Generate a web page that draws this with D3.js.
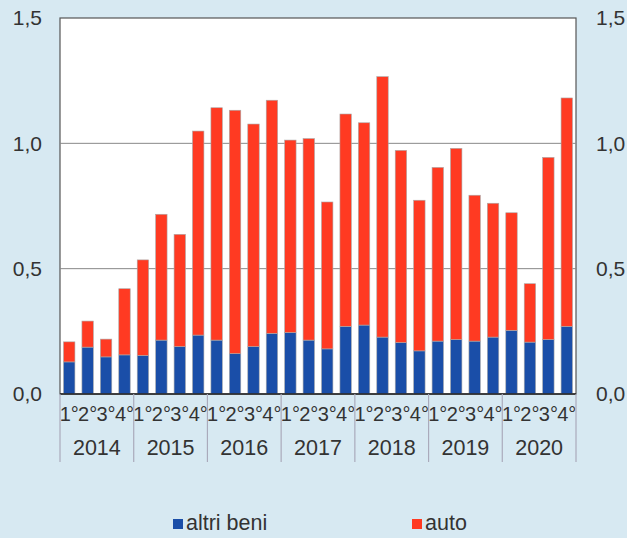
<!DOCTYPE html>
<html>
<head>
<meta charset="utf-8">
<script src="https://cdn.jsdelivr.net/npm/d3@7"></script>
<style>
  body { margin: 0; background: #d7e9f2; }
  text { font-family: "Liberation Sans", Arial, sans-serif; fill: #333; }
</style>
</head>
<body>
<script>
// data
var years = ['2014', '2015', '2016', '2017', '2018', '2019', '2020'];
var quarters = ['1°', '2°', '3°', '4°'];
var altriBeni = [0.128, 0.187, 0.148, 0.156, 0.154, 0.215, 0.189, 0.235,
                 0.215, 0.161, 0.189, 0.242, 0.245, 0.215, 0.180, 0.270,
                 0.275, 0.227, 0.205, 0.172, 0.211, 0.217, 0.211, 0.227,
                 0.254, 0.207, 0.217, 0.270];
var totale = [0.208, 0.291, 0.219, 0.420, 0.535, 0.717, 0.637, 1.049,
              1.142, 1.132, 1.077, 1.172, 1.013, 1.019, 0.766, 1.117,
              1.082, 1.266, 0.972, 0.773, 0.904, 0.980, 0.793, 0.761,
              0.723, 0.440, 0.944, 1.181];
var yTicks = [0, 0.5, 1, 1.5];

// build rows
var rows = [];
years.forEach(function(yr, yi) {
    quarters.forEach(function(q, qi) {
        var i = yi * 4 + qi;
        rows.push({key: yr + '-' + q, year: yr, q: q,
                   altri: altriBeni[i], auto: totale[i] - altriBeni[i]});
    });
});

// dimensions
var width = 627, height = 538,
    margin = {top: 18, right: 51, bottom: 144, left: 60},
    w = width - margin.left - margin.right,
    h = height - margin.top - margin.bottom;

var x = d3.scaleBand().domain(rows.map(function(d) { return d.key; }))
          .range([0, w]).paddingInner(0.38).paddingOuter(0.19);
var y = d3.scaleLinear().domain([0, 1.5]).range([h, 0]);

var svg = d3.select('body').append('svg')
    .attr('width', width).attr('height', height);
var g = svg.append('g')
    .attr('transform', 'translate(' + margin.left + ',' + margin.top + ')');

// plot area
g.append('rect').attr('width', w).attr('height', h)
    .attr('fill', '#fff').attr('stroke', '#555').attr('stroke-width', 1.2);

// gridlines
g.selectAll('.grid').data([0.5, 1]).enter().append('line')
    .attr('x1', 0).attr('x2', w)
    .attr('y1', function(d) { return y(d); }).attr('y2', function(d) { return y(d); })
    .attr('stroke', '#888').attr('stroke-width', 1);

// stacked bars
var colors = {altri: '#1a4ea8', auto: '#ff3a22'};
var stack = d3.stack().keys(['altri', 'auto'])(rows);
g.selectAll('.serie').data(stack).enter().append('g')
    .attr('fill', function(d) { return colors[d.key]; })
  .selectAll('rect').data(function(d) { return d; }).enter().append('rect')
    .attr('x', function(d) { return x(d.data.key); })
    .attr('width', x.bandwidth())
    .attr('y', function(d) { return y(d[1]); })
    .attr('height', function(d) { return y(d[0]) - y(d[1]); })
    .attr('stroke', '#aaa').attr('stroke-width', 0.6);

// baseline
g.append('line').attr('x1', 0).attr('x2', w).attr('y1', h).attr('y2', h)
    .attr('stroke', '#222').attr('stroke-width', 1.5);

// y labels both sides
var yAxisL = d3.axisLeft(y).tickValues(yTicks).tickSize(0).tickPadding(18)
    .tickFormat(function(d) { return d3.format('.1f')(d).replace('.', ','); });
var yAxisR = d3.axisRight(y).tickValues(yTicks).tickSize(0).tickPadding(20)
    .tickFormat(function(d) { return d3.format('.1f')(d).replace('.', ','); });
[g.append('g').call(yAxisL),
 g.append('g').attr('transform', 'translate(' + w + ',0)').call(yAxisR)].forEach(function(a) {
    a.select('.domain').remove();
    a.selectAll('text').style('font-size', '21px').attr('fill', '#333');
});

// quarter labels
g.selectAll('.ql').data(rows).enter().append('text')
    .attr('x', function(d) { return x(d.key) + x.bandwidth() / 2; })
    .attr('y', h + 27)
    .attr('text-anchor', 'middle')
    .style('font-size', '20px')
    .text(function(d) { return d.q; });

// year separators and labels
var yw = w / years.length;
g.selectAll('.ysep').data(d3.range(years.length + 1)).enter().append('line')
    .attr('x1', function(i) { return i * yw; }).attr('x2', function(i) { return i * yw; })
    .attr('y1', h).attr('y2', h + 68)
    .attr('stroke', '#aab').attr('stroke-width', 1.2);
g.selectAll('.yl').data(years).enter().append('text')
    .attr('x', function(d, i) { return i * yw + yw / 2; })
    .attr('y', h + 61)
    .attr('text-anchor', 'middle')
    .style('font-size', '21.5px')
    .text(function(d) { return d; });

// legend
var legend = [{label: 'altri beni', key: 'altri', x: 173}, {label: 'auto', key: 'auto', x: 412}];
var lg = svg.selectAll('.lg').data(legend).enter().append('g')
    .attr('transform', function(d) { return 'translate(' + d.x + ',519)'; });
lg.append('rect').attr('width', 10).attr('height', 10)
    .attr('fill', function(d) { return colors[d.key]; });
lg.append('text').attr('x', 13).attr('y', 11)
    .style('font-size', '21.5px')
    .text(function(d) { return d.label; });
</script>
</body>
</html>
